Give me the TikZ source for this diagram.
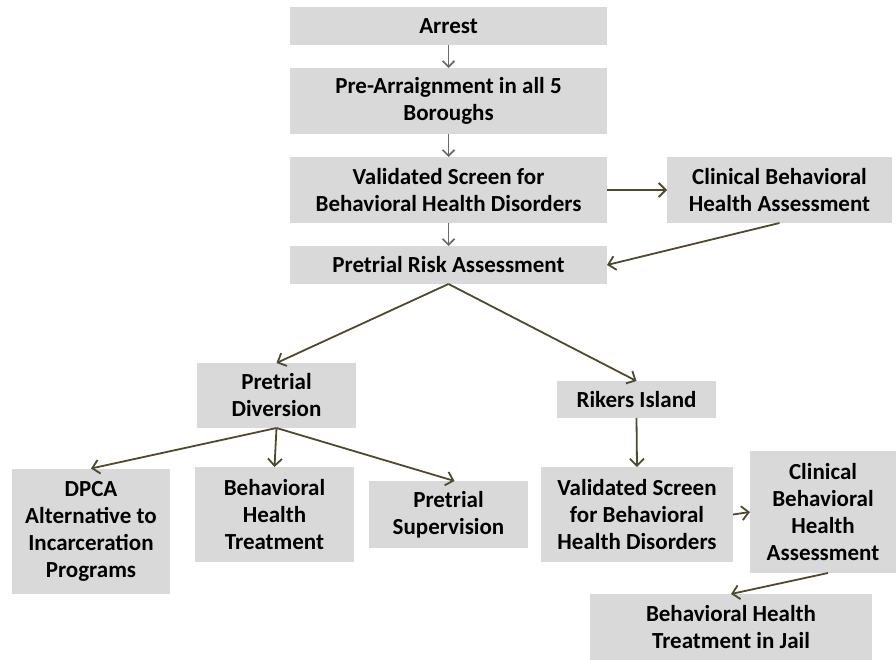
\documentclass[tikz,border=0pt]{standalone}
\usepackage{fontspec}
\setmainfont{Carlito}
\usetikzlibrary{arrows.meta}
\definecolor{boxgrey}{RGB}{217,217,217}
\definecolor{olive}{RGB}{79,73,45}
\definecolor{arrgrey}{RGB}{105,105,105}
\tikzset{
  box/.style={fill=boxgrey, draw=none, inner sep=0pt, outer sep=0pt, align=center,
    font=\fontsize{23}{27}\selectfont\bfseries, text=black},
  oarrow/.style={draw=olive, line width=1.8pt, -{Straight Barb[length=7pt,width=14pt,line width=1.8pt]}},
  garrow/.style={draw=arrgrey, line width=1.7pt, -{Straight Barb[length=6pt,width=12pt,line width=1.7pt]}}
}
\begin{document}
\begin{tikzpicture}[x=1pt, y=-1pt]
\useasboundingbox (0,0) rectangle (896,660);
% boxes
\node[box, minimum width=317pt, minimum height=38pt] (arrest) at (448.5,26) {Arrest};
\node[box, minimum width=317pt, minimum height=66pt] (pre) at (448.5,101) {Pre-Arraignment in all 5\\Boroughs};
\node[box, minimum width=317pt, minimum height=66pt] (val) at (448.5,190) {Validated Screen for\\Behavioral Health Disorders};
\node[box, minimum width=225pt, minimum height=66pt] (clin1) at (779.5,190) {Clinical Behavioral\\Health Assessment};
\node[box, minimum width=317pt, minimum height=38pt] (risk) at (448.5,265) {Pretrial Risk Assessment};
\node[box, minimum width=159pt, minimum height=65pt] (div) at (276.5,395.5) {Pretrial\\Diversion};
\node[box, minimum width=159pt, minimum height=37pt] (rikers) at (636.5,399.5) {Rikers Island};
\node[box, minimum width=158pt, minimum height=125pt] (dpca) at (91,531) {DPCA\\Alternative to\\Incarceration\\Programs};
\node[box, minimum width=159pt, minimum height=95pt] (bht) at (274.5,514.5) {Behavioral\\Health\\Treatment};
\node[box, minimum width=159pt, minimum height=67pt] (sup) at (448.5,514.5) {Pretrial\\Supervision};
\node[box, minimum width=192pt, minimum height=95pt] (val2) at (637,514.5) {Validated Screen\\for Behavioral\\Health Disorders};
\node[box, minimum width=146pt, minimum height=122pt] (clin2) at (823,512) {Clinical\\Behavioral\\Health\\Assessment};
\node[box, minimum width=282pt, minimum height=66pt] (jail) at (731,627) {Behavioral Health\\Treatment in Jail};
% connectors
\draw[garrow] (arrest.south) -- (pre.north);
\draw[garrow] (pre.south) -- (val.north);
\draw[garrow] (val.south) -- (risk.north);
\draw[oarrow] (val.east) -- (clin1.west);
\draw[oarrow] (clin1.south) -- (risk.east);
\draw[oarrow] (risk.south) -- (div.north);
\draw[oarrow] (risk.south) -- (rikers.north);
\draw[oarrow] (div.south) -- (dpca.north);
\draw[oarrow] (div.south) -- (bht.north);
\draw[oarrow] (div.south) -- ([xshift=6pt]sup.north);
\draw[oarrow] (rikers.south) -- (val2.north);
\draw[oarrow] (val2.east) -- (clin2.west);
\draw[oarrow] ([xshift=5pt]clin2.south) -- (jail.north);
\end{tikzpicture}
\end{document}
